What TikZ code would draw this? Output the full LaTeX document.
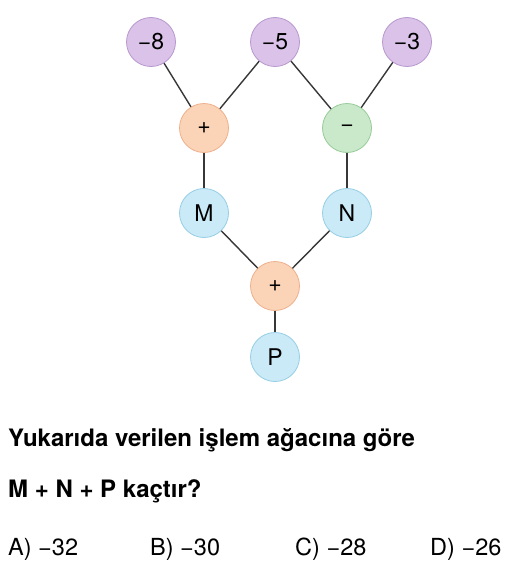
\documentclass[tikz,border=0pt]{standalone}
\usepackage{fontspec}
\setmainfont{TeX Gyre Heros}
\usetikzlibrary{positioning}

\definecolor{numfill}{RGB}{218,194,232}
\definecolor{numdraw}{RGB}{184,152,206}
\definecolor{addfill}{RGB}{251,212,184}
\definecolor{adddraw}{RGB}{238,176,140}
\definecolor{subfill}{RGB}{202,232,202}
\definecolor{subdraw}{RGB}{150,204,152}
\definecolor{resfill}{RGB}{202,234,247}
\definecolor{resdraw}{RGB}{150,206,228}
\definecolor{edgecol}{RGB}{55,55,55}

\begin{document}
\begin{tikzpicture}[
  x=1pt, y=-1pt,
  ball/.style={circle, draw, line width=0.8pt, minimum size=49pt, inner sep=0pt,
    font=\fontsize{23}{26}\selectfont},
  num/.style={ball, fill=numfill, draw=numdraw},
  add/.style={ball, fill=addfill, draw=adddraw},
  sub/.style={ball, fill=subfill, draw=subdraw},
  res/.style={ball, fill=resfill, draw=resdraw},
  edge/.style={draw=edgecol, line width=1.4pt},
  ask/.style={anchor=base west, inner sep=0pt, font=\fontsize{24}{26}\selectfont\bfseries},
  opt/.style={anchor=base west, inner sep=0pt, font=\fontsize{23.5}{26}\selectfont}
]
\useasboundingbox (0,0) rectangle (507,570);

% numbers
\node[num] (n8) at (151,42) {−8};
\node[num] (n5) at (275,42) {−5};
\node[num] (n3) at (407,42) {−3};

% operations
\node[add] (plus1) at (204,128) {+};
\node[sub] (minus) at (347,128) {−};
\node[res] (M) at (204,213) {M};
\node[res] (N) at (347,213) {N};
\node[add] (plus2) at (275,286) {+};
\node[res] (P) at (275,357) {P};

\draw[edge] (n8) -- (plus1);
\draw[edge] (n5) -- (plus1);
\draw[edge] (n5) -- (minus);
\draw[edge] (n3) -- (minus);
\draw[edge] (plus1) -- (M);
\draw[edge] (minus) -- (N);
\draw[edge] (M) -- (plus2);
\draw[edge] (N) -- (plus2);
\draw[edge] (plus2) -- (P);

% question
\node[ask] (q1) at (8,446) {Yukarıda verilen işlem ağacına göre};
\node[ask] (q2) at (8,497) {M + N + P kaçtır?};
\node[opt] (a) at (8,555) {A) −32};
\node[opt] (b) at (150,555) {B) −30};
\node[opt] (c) at (295,555) {C) −28};
\node[opt] (d) at (430,555) {D) −26};
\end{tikzpicture}
\end{document}
